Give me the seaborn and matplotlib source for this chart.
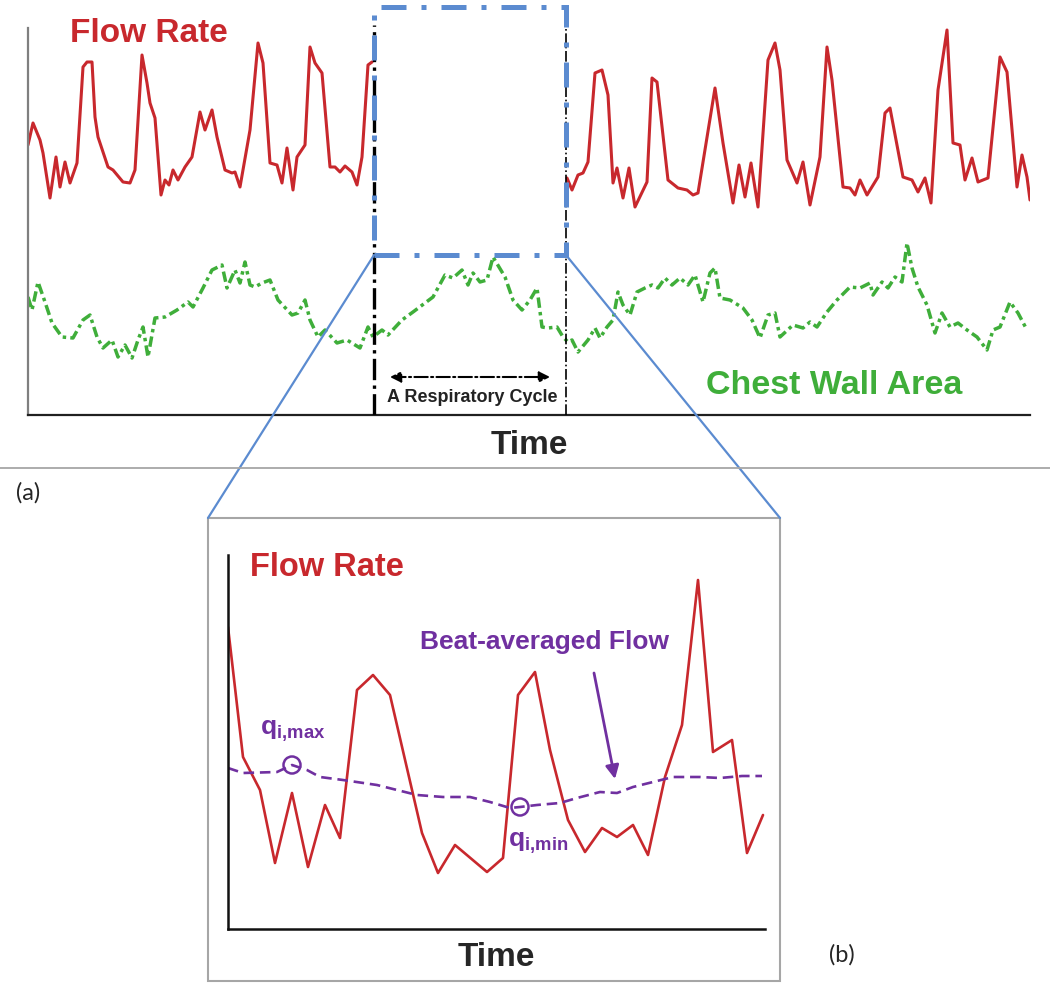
import matplotlib
matplotlib.use("Agg")
import matplotlib.pyplot as plt
from matplotlib.patches import Rectangle, ConnectionPatch
import seaborn as sns

# (a) flow rate as (time, value); gap = zoomed cycle
flow_before = [(0, 270), (5, 292), (12, 275), (15, 262), (22, 217), (28, 258), (32, 228),
               (37, 253), (42, 232), (49, 252), (55, 348), (59, 353), (64, 353), (67, 298),
               (70, 278), (80, 248), (85, 245), (95, 233), (102, 232), (107, 245), (114, 360),
               (119, 332), (122, 312), (127, 297), (133, 220), (137, 235), (141, 230), (145, 245),
               (150, 235), (157, 248), (164, 258), (172, 303), (177, 285), (184, 305), (189, 278),
               (197, 245), (204, 242), (207, 243), (212, 228), (222, 285), (230, 372), (235, 352),
               (242, 252), (249, 250), (254, 232), (259, 267), (265, 225), (269, 258), (277, 270),
               (282, 368), (287, 352), (294, 342), (302, 248), (307, 248), (312, 243), (317, 249),
               (324, 243), (329, 230), (334, 258), (340, 350), (344, 353)]
flow_after = [(539, 237), (544, 225), (550, 240), (555, 242), (560, 253), (567, 342), (574, 345),
              (580, 320), (585, 232), (589, 247), (595, 217), (601, 247), (607, 208), (619, 233),
              (624, 337), (629, 333), (640, 235), (650, 227), (659, 225), (665, 220), (670, 222),
              (687, 327), (695, 272), (705, 212), (711, 250), (717, 218), (723, 252), (730, 208),
              (740, 355), (747, 372), (752, 345), (759, 255), (769, 232), (775, 253), (782, 210),
              (792, 258), (799, 368), (804, 335), (815, 228), (822, 227), (827, 220), (832, 235),
              (839, 220), (850, 238), (857, 302), (862, 307), (875, 238), (884, 235), (890, 223),
              (897, 237), (903, 212), (910, 325), (919, 385), (925, 272), (932, 270), (937, 235),
              (944, 257), (950, 233), (960, 237), (972, 358), (979, 343), (989, 228), (994, 260),
              (999, 238), (1002, 215)]

# (a) chest wall area
chest = [(0, 118), (4, 105), (10, 133), (17, 113), (24, 92), (34, 78), (45, 77), (55, 95), (62, 100),
         (69, 78), (75, 67), (84, 75), (90, 58), (97, 70), (104, 57), (110, 75), (115, 88), (120, 58),
         (127, 97), (137, 98), (149, 105), (160, 113), (165, 108), (175, 127), (184, 145), (194, 150),
         (199, 127), (207, 145), (212, 132), (217, 153), (222, 130), (227, 128), (234, 132), (242, 135),
         (250, 115), (264, 100), (270, 102), (277, 115), (282, 95), (290, 78), (297, 85), (309, 72),
         (319, 75), (332, 67), (340, 88), (345, 78), (354, 85), (360, 80), (374, 95), (385, 103),
         (397, 112), (405, 118), (417, 140), (425, 137), (434, 145), (440, 130), (445, 142), (452, 133),
         (459, 135), (465, 158), (477, 138), (485, 115), (494, 105), (502, 115), (509, 127), (514, 88),
         (520, 87), (529, 88), (535, 78), (540, 73), (544, 75), (550, 63), (560, 75), (567, 87),
         (572, 77), (579, 88), (585, 95), (590, 123), (595, 110), (602, 100), (609, 123), (617, 127),
         (624, 130), (630, 127), (637, 137), (644, 130), (652, 137), (660, 130), (667, 140), (675, 113),
         (682, 142), (687, 147), (692, 117), (702, 115), (715, 107), (724, 95), (732, 77), (740, 100),
         (747, 102), (752, 78), (765, 90), (775, 87), (782, 93), (789, 88), (799, 103), (809, 115),
         (822, 128), (832, 127), (842, 132), (845, 120), (854, 133), (860, 127), (867, 138), (874, 133),
         (879, 172), (884, 147), (890, 128), (899, 110), (907, 82), (914, 102), (922, 88), (930, 92),
         (939, 85), (949, 78), (959, 65), (965, 85), (972, 88), (982, 113), (990, 102), (999, 85)]

cycle_start, cycle_end = 346, 538
box_low, box_high = 160, 408

# (b) one respiratory cycle, zoomed
cycle_flow = [(0, 302), (15, 172), (32, 139), (47, 66), (64, 136), (80, 62), (97, 124), (112, 91),
              (129, 239), (145, 254), (162, 234), (194, 96), (210, 56), (227, 84), (259, 57),
              (275, 71), (290, 234), (307, 257), (322, 179), (340, 109), (357, 77), (374, 101),
              (389, 92), (405, 104), (420, 74), (437, 152), (454, 204), (470, 349), (485, 177),
              (504, 189), (519, 76), (535, 114)]
beat_avg = [(0, 161), (15, 156), (49, 157), (64, 164), (79, 159), (92, 152), (115, 149), (149, 144),
            (169, 139), (189, 134), (215, 132), (242, 132), (262, 127), (282, 121), (292, 122),
            (309, 124), (332, 126), (349, 131), (372, 137), (389, 136), (405, 142), (425, 147),
            (445, 152), (472, 152), (492, 151), (514, 153), (534, 153)]
q_max = (64, 164)
q_min = (292, 122)

RED = "#c8282d"
GREEN = "#3fae3a"
PURPLE = "#7030a0"
BLUE = "#5b8bd0"
W, H = 1050, 991

sns.set_theme(style="white")
plt.rcParams["font.family"] = ["Liberation Sans", "DejaVu Sans"]
plt.rcParams["mathtext.fontset"] = "custom"
plt.rcParams["mathtext.bf"] = "Liberation Sans:bold"
plt.rcParams["mathtext.rm"] = "Liberation Sans"

fig = plt.figure(figsize=(W / 100, H / 100), dpi=100)


def px_axes(left, top, right, bottom):
    return fig.add_axes([left / W, (H - bottom) / H, (right - left) / W, (bottom - top) / H])


# ---- panel (a)
ax = px_axes(28, 7, 1030, 415)
ax.set_facecolor("none")
for seg in (flow_before, flow_after):
    t, v = zip(*seg)
    sns.lineplot(x=list(t), y=list(v), color=RED, lw=2.2, ax=ax, legend=False)
t, v = zip(*chest)
sns.lineplot(x=list(t), y=list(v), color=GREEN, lw=2.5, linestyle=(0, (3, 1.2, 1, 1.2)),
             ax=ax, legend=False)

ax.plot([cycle_start] * 2, [0, 390], color="black", lw=2.4, linestyle="-.", zorder=3)
ax.plot([cycle_end] * 2, [0, 392], color="black", lw=1.2, linestyle="-.", zorder=3)
ax.add_patch(Rectangle((cycle_start, box_low), cycle_end - cycle_start, box_high - box_low,
                       facecolor="none", edgecolor=BLUE, lw=3.6,
                       linestyle=(0, (5, 3, 1, 3)), zorder=4, clip_on=False))
ax.annotate("", xy=(522, 38), xytext=(362, 38),
            arrowprops=dict(arrowstyle="<|-|>", color="black", lw=1.5, linestyle="-.",
                            mutation_scale=16, shrinkA=0, shrinkB=0))
ax.text(444, 17, "A Respiratory Cycle", ha="center", va="center", fontsize=13,
        fontweight="bold", color="#222222")
ax.text(121, 382, "Flow Rate", ha="center", va="center", fontsize=24, fontweight="bold", color=RED)
ax.text(806, 29, "Chest Wall Area", ha="center", va="center", fontsize=24.5, fontweight="bold",
        color=GREEN)

ax.set_xlim(0, 1002)
ax.set_ylim(0, 408)
ax.set_xticks([])
ax.set_yticks([])
ax.set_xlabel("Time", fontsize=24, fontweight="bold", labelpad=11)
for side in ("top", "right"):
    ax.spines[side].set_visible(False)
ax.spines["left"].set_bounds(0, 387)
ax.spines["left"].set_color("#7f7f7f")
ax.spines["left"].set_linewidth(1.6)
ax.spines["bottom"].set_color("#202020")
ax.spines["bottom"].set_linewidth(1.6)

# ---- separator and frame of (b)
fig.add_artist(plt.Line2D([0, 1], [(H - 468) / H] * 2, color="#a6a6a6", lw=1.3,
                          transform=fig.transFigure))
frame = (208 / W, (H - 981) / H, (780 - 208) / W, (981 - 518) / H)
fig.add_artist(Rectangle(frame[:2], frame[2], frame[3], transform=fig.transFigure,
                         fill=False, edgecolor="#a6a6a6", lw=1.5))
for xa, xb in ((cycle_start, frame[0]), (cycle_end, frame[0] + frame[2])):
    fig.add_artist(ConnectionPatch(xyA=(xa, box_low), coordsA=ax.transData,
                                   xyB=(xb, frame[1] + frame[3]), coordsB=fig.transFigure,
                                   color=BLUE, lw=1.6))
fig.text(28 / W, (H - 493) / H, "(a)", ha="center", va="center", fontsize=17, family="Lato")
fig.text(842 / W, (H - 955) / H, "(b)", ha="center", va="center", fontsize=17, family="Lato")

# ---- panel (b)
bx = px_axes(228, 553, 765, 929)
bx.set_facecolor("none")
t, v = zip(*cycle_flow)
sns.lineplot(x=list(t), y=list(v), color=RED, lw=1.9, ax=bx, legend=False)
t, v = zip(*beat_avg)
sns.lineplot(x=list(t), y=list(v), color=PURPLE, lw=1.9, linestyle=(0, (4, 2.2)), ax=bx,
             legend=False)
sns.scatterplot(x=[q_max[0], q_min[0]], y=[q_max[1], q_min[1]], s=150, facecolor="none",
                edgecolor=PURPLE, linewidth=1.8, ax=bx, legend=False, zorder=5)
bx.text(q_max[0] + 1, q_max[1] + 34, r"$\mathbf{q}_{\mathbf{i{,}max}}$", ha="center",
        va="center", fontsize=19, color=PURPLE)
bx.text(q_min[0] + 18, q_min[1] - 36, r"$\mathbf{q}_{\mathbf{i{,}min}}$", ha="center",
        va="center", fontsize=19, color=PURPLE)
bx.annotate("", xy=(387, 150), xytext=(366, 256),
            arrowprops=dict(arrowstyle="-|>", color=PURPLE, lw=2, mutation_scale=20,
                            shrinkA=0, shrinkB=0))
bx.text(317, 287, "Beat-averaged Flow", ha="center", va="center", fontsize=19,
        fontweight="bold", color=PURPLE)
bx.text(99, 362, "Flow Rate", ha="center", va="center", fontsize=23.5, fontweight="bold",
        color=RED)

bx.set_xlim(0, 537)
bx.set_ylim(0, 376)
bx.set_xticks([])
bx.set_yticks([])
bx.set_xlabel("Time", fontsize=24, fontweight="bold", labelpad=9)
for side in ("top", "right"):
    bx.spines[side].set_visible(False)
bx.spines["left"].set_bounds(0, 374)
for side in ("left", "bottom"):
    bx.spines[side].set_color("#111111")
    bx.spines[side].set_linewidth(1.8)

fig.savefig("out.png", dpi=100, facecolor="white")
